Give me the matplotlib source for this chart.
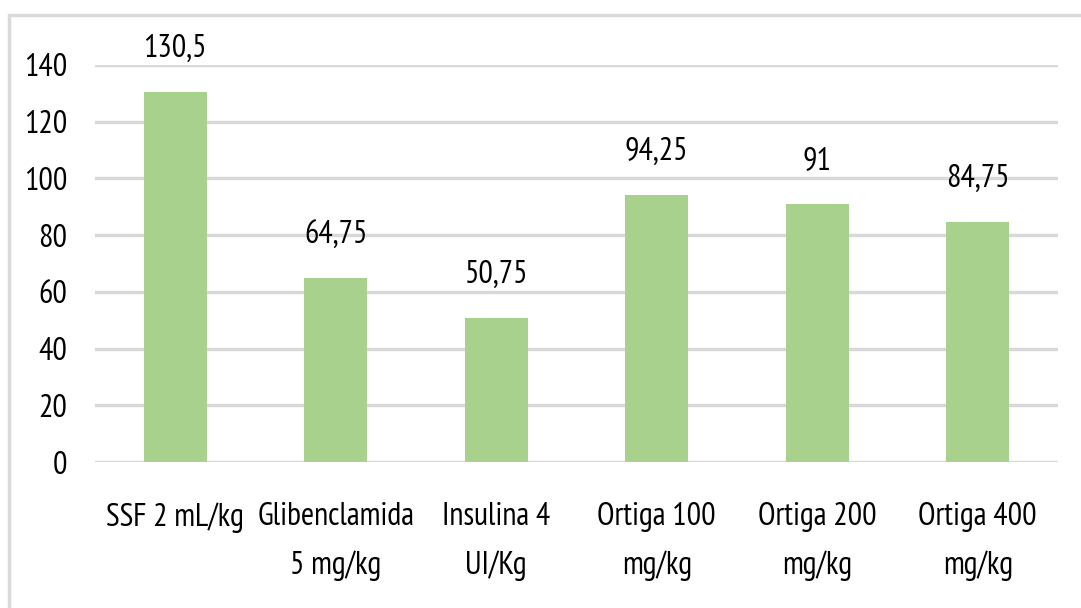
import matplotlib
matplotlib.use("Agg")
import matplotlib.pyplot as plt
from matplotlib import font_manager
from matplotlib.patches import Rectangle

categories = ["SSF 2 mL/kg", "Glibenclamida\n5 mg/kg", "Insulina 4\nUI/Kg",
              "Ortiga 100\nmg/kg", "Ortiga 200\nmg/kg", "Ortiga 400\nmg/kg"]
values = [130.5, 64.75, 50.75, 94.25, 91, 84.75]
labels = ["130,5", "64,75", "50,75", "94,25", "91", "84,75"]
yticks = [0, 20, 40, 60, 80, 100, 120, 140]

names = {f.name for f in font_manager.fontManager.ttflist}
fam = "PT Sans Narrow" if "PT Sans Narrow" in names else "DejaVu Sans"
plt.rcParams['font.family'] = [fam, 'DejaVu Sans']

W, H = 1081, 608
FS = 23
fig = plt.figure(figsize=(W/100, H/100), dpi=100)
ax = fig.add_axes([95/W, 1-462/H, (1058-95)/W, (462-65)/H])

x = list(range(len(categories)))
ax.bar(x, values, width=0.39, color="#a9d18e", zorder=3)
ax.set_xlim(-0.5, len(categories)-0.5)
ax.set_ylim(0, 140)
ax.set_yticks(yticks)
ax.set_yticklabels([str(t) for t in yticks], fontsize=FS, color="#000000")
ax.set_xticks(x)
ax.set_xticklabels(categories, fontsize=FS, color="#000000", linespacing=1.75)
ax.tick_params(axis='both', length=0)
ax.tick_params(axis='y', pad=20)
ax.tick_params(axis='x', pad=29)
ax.grid(axis='y', color="#d9d9d9", linewidth=2.5, zorder=0)
ax.set_axisbelow(True)
for s in ax.spines.values():
    s.set_visible(False)

for xi, v, lab in zip(x, values, labels):
    ax.annotate(lab, (xi, v), xytext=(0, 20), textcoords="offset points",
                ha="center", va="bottom", fontsize=FS, color="#000000")

fig.patches.append(Rectangle((9/W, -0.1), 1.2, 1 - 15/H + 0.1, transform=fig.transFigure,
                             fill=False, edgecolor="#d9d9d9", linewidth=2.5, zorder=0))

fig.savefig("out.png", dpi=100, facecolor="white")
